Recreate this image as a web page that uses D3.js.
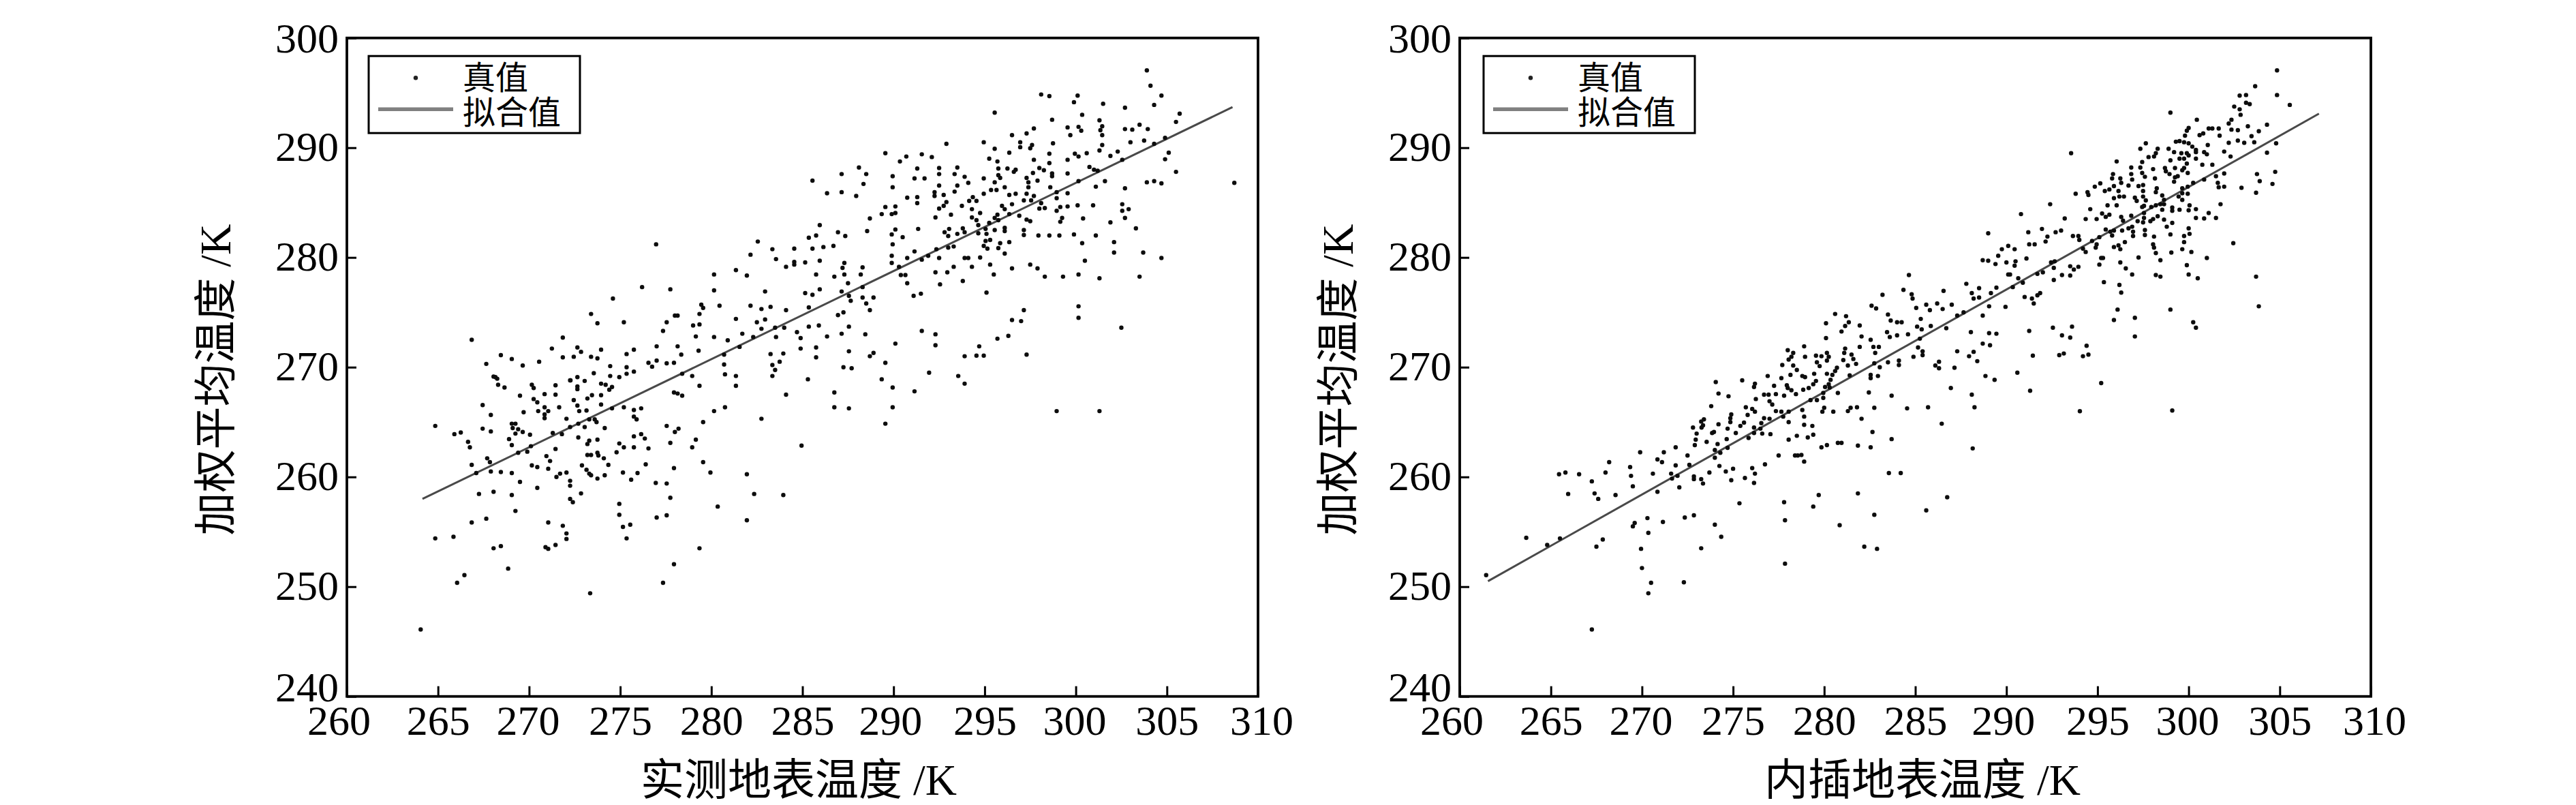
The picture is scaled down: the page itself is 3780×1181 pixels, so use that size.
<!DOCTYPE html>
<html>
<head>
<meta charset="utf-8">
<script src="https://cdn.jsdelivr.net/npm/d3@7"></script>
<style>
  body { margin: 0; background: #fff; }
  text { font-family: "Liberation Serif", "Noto Sans CJK SC", serif; fill: #000; }
</style>
</head>
<body>
<svg id="chart" width="3780" height="1181"></svg>
<script>
// tick labels
var xTicks = [260, 265, 270, 275, 280, 285, 290, 295, 300, 305, 310];
var yTicks = [240, 250, 260, 270, 280, 290, 300];

// axis titles and legend
var xTitleLeft = '实测地表温度 /K';
var xTitleRight = '内插地表温度 /K';
var yTitle = '加权平均温度 /K';
var legendLabels = ['真值', '拟合值'];

// fit lines as [x, y] ends
var fitLeft = [[264.15, 258.0], [308.6, 293.7]];
var fitRight = [[261.55, 250.5], [307.15, 293.1]];

// left panel points [measured, weighted mean]
var pointsLeft = [
[276.97,281.2],[276.2,277.3],[277.75,277.1],[274.6,276.25],[273.4,274.85],[273.75,274],[275.2,274.1],[278,274.7],[278.15,274.7],[279.45,275.7],[279.55,275.4],[279.35,274.85],[277.55,274.1],[277.35,273.3],[279,273.8],[279.35,273.9],[279.15,272.8],[266.85,272.5],[271.85,272.7],[271.25,271.7],[272.65,271.8],[273.95,271.6],[272.85,271.4],[275.35,271.2],[275.75,271.6],[277,271.9],[278.15,271.9],[279.3,271.5],[268.45,271.1],[269.05,270.75],[267.65,270.3],[269.65,270.15],[270.55,270.5],[271.85,270.9],[272.45,270.95],[273.4,270.95],[273.75,270.8],[276.55,270.4],[276.75,270.05],[277,270.6],[277.55,270.35],[277.95,270.4],[278.35,271.15],[274.45,270.1],[275.35,270],[275.75,269.6],[275.35,269.4],[273.55,269.45],[274.45,269.2],[274.95,269.1],[268.15,269.1],[272.65,269.1],[272.27,268.8],[273.05,268.75],[278.4,269.4],[278.95,269.2],
[268.05,269.15],[268.25,268.95],[268.3,268.4],[268.65,268.15],[270.15,268.4],[270.25,268.1],[271.45,268.35],[272.25,268.8],[272.65,268.25],[272.65,268],[273.95,268.5],[274.2,268.4],[274.55,268.2],[274.4,267.95],[269.5,267.4],[270.85,267.55],[271.45,267.5],[270.25,267.1],[270.45,266.8],[272.45,267],[273.2,267.15],[273.45,267.45],[273.95,267.45],[273.95,266.6],[277.95,267.7],[278.15,267.6],[278.4,267.4],[279.35,268.3],[267.45,266.55],[267.9,265.65],[269.7,265.9],[270.5,266],[270.85,266.35],[271.05,266],[270.85,265.7],[270.85,265.35],[271.65,266.35],[272.65,266.5],[272.75,266],[273.15,266.05],[272.05,265.3],[275.2,266.35],[275.75,266.1],[276.15,266.25],[275.75,265.5],[275.9,265.25],[274.55,266.25],[264.85,264.65],[267.45,264.4],[267.9,264.15],[265.9,263.9],[266.25,264.05],[269.05,264.85],[269.25,264.85],[269.1,264.45],[269.4,264.35],[269.25,263.95],[269.65,264.1],[270.05,263.85],[271.3,264],[271.8,263.9],[272.25,264.55],[272.7,264.85],[273.05,264.55],[273.3,265.25],[273.6,265.25],[273.7,265],[274.15,264.45],[277.55,264.65],[278,264.1],[278.2,264.4],[279.55,265],[268.9,263.45],[269.05,262.9],[270.1,262.8],[272.7,263.6],[273.3,263.3],[273.2,263],[273.75,263.4],[266.65,263.2],[266.75,262.7],[269.9,262.3],[269.4,262.2],[271.45,262.55],[274.8,262.25],[274.95,263.05],[275.2,262.7],[275.75,262.7],[275.75,263.7],[276.15,263.9],[276.35,263.5],[276.55,262.6],[277.75,263.1],[278.95,262.7],[279.15,263.4],[270.95,261.9],[271.15,261.45],[273.2,262],[273.4,262],[273.75,262.2],[273.8,261.95],[274.1,261.7],[267.7,261.7],[267.85,261.35],[266.85,261.1],[270.15,261.05],[270.45,260.9],[271.05,260.75],[272.9,261.05],[274.35,261.1],[273.15,260.65],[273.3,260.3],[276.4,261.15],[277.95,260.8],[279.55,261.35],[267.9,260.5],[267.1,260.35],[268.45,260.45],[269.05,260.35],[271.5,260],[271.7,260.3],[272.05,260.4],[273.4,260.15],[273.75,259.85],[274.15,260.15],[275.15,260.4],[275.6,259.75],[275.95,260.35],[269.5,259.55],[272.25,259.65],[272.25,259.2],[270.45,259],[276.95,259.45],[277.55,259.4],[267.25,258.45],[268.05,258.65],[269.05,258.35],[272.85,258.5],[272.25,258],[272.4,257.7],[277.75,258.1],[274.95,257.55],[269.25,256.9],[274.95,256.55],[277,256.3],[277.55,256.5],[267.65,256.2],[266.85,255.85],[271.05,255.85],[271.85,255.55],[275.15,255.45],[275.55,255.65],[264.85,254.4],[265.85,254.55],[272.05,254.85],[272.05,254.35],[275.35,254.4],[268.05,253.5],[268.45,253.7],[270.9,253.6],[271.05,253.45],[271.45,253.8],[279.35,253.5],[277.95,252.05],[268.85,251.65],[266.45,251.05],[266.05,250.35],[277.35,250.35],[273.35,249.4],[264.05,246.1],
[303.9,297.05],[304.1,295.65],[298.1,294.85],[298.55,294.7],[300.1,294.75],[299.9,294.15],[304.7,294.75],[301.5,294],[302.7,293.65],[304.3,293.9],[295.55,293.2],[300.35,293],[305.7,293.1],[298.7,292.55],[301.3,292.5],[305.5,292.35],[299.55,291.85],[300.15,291.9],[300.3,291.55],[301.45,291.95],[301.35,291.6],[302.7,291.7],[303.1,291.65],[303.5,292.1],[303.95,291.7],[297.7,291.75],[297.3,291.3],[296.5,291.15],[299.7,291.15],[301.45,291.15],[292.9,290.35],[294.95,290.5],[296.95,290.5],[296.95,290.05],[297.6,290.25],[297.5,289.95],[298.75,290.4],[303,290.5],[303.75,290.65],[304.3,290.35],[304.9,290.9],[301.45,290.25],[301.3,289.75],[295.55,289.9],[296.35,289.55],[298.55,289.45],[299.95,289.45],[300.15,289.2],[300.6,289.5],[301.9,289.25],[302.3,289.65],[305.1,289.55],[289.55,289.5],[290.7,289.2],[291.55,289.4],[292.1,289.15],[290.35,288.75],[295.25,289],[295.7,288.75],[297.7,288.9],[298.55,288.6],[299.55,288.9],[304.9,288.95],[302.55,288.9],[288.1,288.2],[291.3,288.1],[292.5,288.15],[293.5,288.2],[295.75,288.1],[296.25,288.1],[296.6,287.8],[296.7,288],[298,288.15],[298.25,287.95],[300.75,288.25],[301,288],[305.5,287.8],[287.15,287.6],[288.5,287.6],[289.95,287.4],[292.5,287.6],[293.35,287.6],[293.9,287.35],[295.75,287.5],[297.65,287.7],[298.7,287.65],[298.7,287.4],[299.55,287.65],[301.2,287.9],[285.55,287],[291.15,287.2],[291.7,287.2],[294.95,287.2],[297.3,287.25],[295.85,287.25],[288.35,286.7],[294.1,286.8],[295.55,286.85],[297.9,287],[297.4,286.85],[300.15,286.95],[301.6,286.95],[303.9,286.85],[304.3,286.95],[304.7,286.75],[308.7,286.8],[289.95,286.4],[292.5,286.55],[293.5,286.55],[296.1,286.4],[297.4,286.4],[298.6,286.4],[301.1,286.45],[302.7,286.3],[295.35,286.15],[295.65,286.15],[292.25,285.95],[292.75,285.7],[293.35,286],[294.95,285.8],[296.35,285.7],[296.7,285.8],[297.3,285.8],[298.95,285.95],[299.55,285.85],[286.35,285.85],[287.15,285.95],[287.95,285.6],[292.25,285.6],[290.75,285.45],[291.3,285.5],[291.3,284.95],[294.35,285.5],[294.15,285.15],[294.55,285.15],[297.15,285.2],[297.7,285.6],[297.55,285.2],[298.95,285.4],[292.9,285.05],[292.75,284.7],[292.5,284.45],[293.75,284.7],[295.95,284.7],[296.5,284.85],[298.1,284.95],[298,284.45],[298.3,284.5],[299.15,284.6],[298.95,284.25],[299.55,284.65],[300.1,284.75],[300.95,284.75],[302.55,284.85],[289.55,284.6],[290.1,284.65],[294.3,284.4],[296.1,284.4],[302.55,284.25],[302.9,284.4],[289.35,283.95],[289.9,283.95],[290.1,284.05],[293.15,283.9],[292.3,283.65],[294.75,284.05],[295.7,283.9],[295.55,283.6],[296.35,283.95],[296.9,283.8],[288.7,283.55],[294.3,283.65],[294.55,283.4],[300.4,283.55],[302.7,283.6],[299.25,283.6],[299.15,283.25],[297.3,283.45],[297.5,283.3],[295.25,283.15],[295.75,283.4],[301.9,283.2],[285.95,282.95],[294.65,282.95],[303.3,282.65],[291.35,282.6],[290.1,282.55],[289.9,282.1],[288.55,282.4],[286.95,282.3],[287.35,281.95],[293.05,282.6],[292.8,282.3],[293,281.95],[293.8,282.65],[293.5,282.15],[293.9,282.3],[294.65,282.2],[295.05,282.6],[295.1,282.15],[295.55,282.5],[296.1,282.7],[296.1,282.4],[297.15,282.5],[297.15,282.05],[297.95,282],[298.55,282],[299.1,282],[299.9,282.1],[301.1,282],[285.75,282],[285.35,281.8],[290.5,281.85],[282.55,281.45],[289.95,281.2],[295.05,281.5],[294.95,281.05],[295.15,280.8],[295.3,281.6],[295.85,281.3],[295.75,280.85],[296.35,281.4],[300.35,281.3],[302.1,281.4],[286.7,281.05],[286.15,280.95],[285.55,280.8],[284.55,280.8],[283.35,280.75],[293.3,281],[293,280.9],[292.35,280.75],[291.15,280.55],[302.1,280.45],[303.7,280.45],[296.1,280.35],[282.15,280.25],[289.9,280.15],[289.9,279.5],[290.75,279.95],[291.9,280.15],[292.5,279.95],[293.9,279.95],[294.1,279.95],[294.75,280],[304.7,279.95],[283.55,279.85],[285.95,279.7],[300.5,279.7],[284.55,279.6],[284.55,279.35],[285.15,279.55],[284.1,279.15],[287.3,279.5],[287.2,279.05],[288.3,279.1],[291.55,279.8],[290.3,279.15],[293.3,279.15],[294.3,279.15],[295.3,279.35],[297.5,279.35],[297.9,279],[296.5,279],[281.35,278.85],[280.15,278.45],[281.95,278.35],[285.75,278.45],[286.75,278.25],[287.3,278.45],[288.2,278.45],[290.4,278.4],[290.65,278.4],[292.3,278.65],[292.95,278.65],[295.5,278.45],[298.3,278.25],[299.3,278.25],[300.15,278.45],[301.3,278.1],[303.5,278.25],[287.5,277.65],[290.75,277.65],[292.55,277.55],[293.8,277.85],[280.15,277],[282.95,276.9],[285.95,277.1],[285.15,276.75],[285.55,276.6],[287.15,276.9],[288.3,277.3],[295.1,276.8],[291.5,276.7],[291.1,276.5],[288.9,276.35],[287.55,276.5],[287.65,276.05],[288.3,276.35],[288.5,275.8],[280.45,275.6],[282.15,275.6],[282.75,275.3],[283.25,275.5],[284.1,275.2],[285.35,275.45],[288.7,275.2],[300.15,275.55],[297.15,275.2],[287.25,275],[286.95,274.75],[281.35,274.4],[282.95,274.35],[282.5,274.1],[300.15,274.5],[296.5,274.3],[297,274.2],[302.5,273.6],[282.75,273.5],[284,273.6],[283.5,273.6],[283.55,272.75],[285.35,273.7],[285.9,273.8],[287.55,273.7],[291.55,273.3],[284.7,273.2],[287.15,273.05],[288.45,273],[292.3,273],[281.7,273.05],[280.15,272.75],[280.9,272.45],[282.3,272.75],[284.9,272.65],[286.35,272.8],[295.7,272.6],[296.3,272.85],[290.1,272.15],[292.3,272],[281.55,271.85],[294.7,271.9],[284.9,271.7],[285.75,271.8],[280.7,271.15],[283.25,271.2],[283.95,271.25],[287.55,271.45],[288.9,271.3],[288.7,271],[285.75,270.9],[293.9,271],[294.55,271.05],[294.95,271.05],[297.3,271.15],[283.75,270.5],[289.55,270.4],[280.7,270.25],[283.35,270.2],[283.5,269.75],[287.25,270],[287.7,269.9],[291.95,269.5],[280.75,269.35],[281.35,269.2],[283.35,269.2],[285.3,268.9],[289.35,268.9],[293.55,269.2],
[281.35,268.3],[284.1,267.5],[286.75,267.7],[289.95,268.15],[291.15,267.8],[293.9,268.5],[280.15,266],[280.75,266.35],[286.75,266.35],[287.55,266.25],[289.95,266.35],[298.95,266],[301.3,266],[282.75,265.3],[289.55,264.85],[284.95,262.85],[279.95,260.4],[281.95,260.25],[282.35,258.45],[283.95,258.35],[280.35,257.3],[281.95,256.05]
];

// right panel points [interpolated, weighted mean]
var pointsRight = [
[304.85,297.05],[303.65,295.6],[302.8,294.75],[303.15,294.8],[304.85,294.8],[303.15,294.1],[303.35,293.97],[305.55,293.9],[302.5,293.75],[302.8,293.5],[302.85,293],[299,293.2],[300.45,292.55],[302.35,292.55],[302.2,292.2],[302.35,291.65],[302.7,291.6],[303.25,291.95],[304.3,292.1],[303.85,291.5],[300,291.8],[299.9,291.55],[299.8,291.1],[301.1,291.75],[301.3,291.75],[301.65,291.75],[301.7,291.1],[300.6,291.15],[300.8,291.3],[303.45,291.05],[302.7,290.65],[302.2,290.45],[303.05,290.45],[303.6,290.5],[304.8,290.4],[301.05,290.25],[299.3,290.55],[299.5,290.6],[299.75,290.5],[300,290.4],[300.2,290.1],[300.4,289.8],[298.9,289.9],[297.65,290.4],[297.35,289.9],[298.3,289.9],[298.2,289.5],[298.1,289.2],[299.2,289.6],[300.85,289.6],[301,289.4],[301.95,289.65],[302.3,289.2],[304.3,289.55],[293.55,289.5],[299.6,289.5],[299.9,289.5],[300.4,289.6],[299.5,289],[299.75,289],[300,289.3],[300.4,289],[297.8,289.15],[297.45,288.7],[296.05,288.75],[299,288.85],[300.75,288.45],[301.3,288.45],[299.9,288.55],[299.75,288.15],[296.85,288.2],[297.35,288.2],[298.05,288.05],[298.7,288.15],[299.25,288.15],[298.75,287.85],[298.95,287.6],[299.65,287.95],[299.95,287.7],[303.75,287.6],[301.95,287.65],[304.75,287.8],[295.85,287.6],[295.8,287.2],[296.85,287.6],[296.9,287.1],[297.45,287.7],[297.6,287.35],[296.25,287.2],[296.3,286.8],[298.15,287.2],[299.25,287.3],[299.2,286.9],[299.4,287.4],[301.5,287.4],[300.85,287.1],[300.25,286.8],[301.6,286.8],[301.65,286.4],[301.95,286.45],[303.9,286.95],[304.6,286.7],[302.9,286.35],[295.15,286.75],[294.85,286.45],[296.7,286.55],[297.25,286.5],[297.5,286.6],[297.5,286.05],[294.45,285.95],[294.5,285.7],[293.8,285.8],[295.4,286.05],[295.65,286.2],[295.9,286.5],[296.15,286.05],[295.9,285.4],[296.2,285.55],[296.45,285.55],[297.05,285.45],[297.15,285.15],[297.5,285.55],[298.25,286.3],[298.2,285.95],[298.55,285.65],[298.65,285.25],[298.65,284.85],[299.65,286.3],[299.65,285.85],[299.95,286.45],[299.95,285.8],[303.7,285.9],[299.45,285.55],[299.65,285.25],[297.65,285.2],[297.55,284.7],[297.45,284.6],[301.75,284.85],[292.4,284.85],[295.55,284.75],[296.05,284.75],[298.2,284.75],[297.95,284.6],[298.45,284.85],[300.05,284.75],[299.1,284.55],[299.1,284.25],[299.5,284.35],[300,284.3],[300.4,284.4],[298.55,284.35],[294.6,284.4],[297.55,284.05],[290.8,283.95],[301.1,284.05],[295.25,284],[295.45,283.7],[295.65,283.9],[296.3,283.7],[296.85,283.8],[298.3,283.75],[298.05,283.5],[297.55,283.6],[293.2,283.55],[294.35,283.5],[294.95,283.5],[300.4,283.6],[300.85,283.55],[301.5,283.6],[296.4,283.35],[297.2,283.3],[297.5,283.2],[297.9,283.3],[298.65,283.45],[299.1,283.15],[298.8,282.8],[296.9,282.8],[291.95,282.6],[291.2,282.3],[292.7,282.3],[293,282.45],[289,282.2],[295.45,282.55],[295.7,282.35],[295.9,282.45],[296.35,282.45],[296.7,282.65],[296.95,282.35],[296.95,281.95],[297.6,282.5],[297.6,282.05],[300,282.65],[299,282.1],[300.05,282.15],[299.75,281.95],[293.65,281.95],[293.95,281.95],[294,281.6],[295.1,281.85],[295.8,282],[292.25,281.9],[292.15,281.45],[298.1,281.9],[296.5,281.4],[299.75,281.4],[302.45,281.3],[291.25,281.2],[291.55,281.2],[290.1,281.05],[294.7,281.5],[294.95,281.2],[294.9,280.9],[295.9,280.95],[296.15,281.1],[296.25,280.75],[298.05,281.2],[298.1,280.9],[294.2,280.8],[294.35,280.5],[289.75,280.75],[290.45,280.75],[299.65,280.75],[299.05,280.45],[300.15,280.5],[298.2,280.4],[289.55,280.15],[297.25,280],[301,279.95],[295.2,279.95],[295.3,279.95],[291.1,279.9],[288.7,279.75],[289,279.7],[290.5,279.65],[290.45,279.25],[290,279.55],[289.4,279.4],[292.45,279.55],[292.65,279.65],[296.25,279.55],[298.45,279.75],[295.1,279.35],[299.9,279.3],[293.5,279.2],[293.95,279.15],[293.7,278.9],[292.6,279.05],[296.55,279],[290.1,278.45],[290.2,278.45],[291.7,278.5],[292,278.65],[293.05,278.4],[293.5,278.35],[296.9,278.45],[298.2,278.4],[298.45,278.25],[300,278.45],[303.7,278.25],[300.5,278.1],[290.65,278.1],[290.9,277.7],[292.6,277.95],[295.35,277.75],[296.2,277.5],[290.35,277.3],[289.45,277.25],[288.5,277.2],[289.15,276.75],[296.3,276.8],[291.7,276.55],[291.85,276.75],[291,276.4],[291.4,276.25],[288.5,276.35],[291.5,275.8],[289.05,275.55],[289.95,275.5],[303.85,275.55],[299,275.25],[296.1,275.25],[288.7,274.7],[297.05,274.5],[295.9,274.3],[300.25,274.1],[300.4,273.6],[292.55,273.6],[293.6,273.7],[291.25,273.3],[289.05,273.1],[289.45,273.05],[293.05,272.9],[293.5,272.7],[297.05,272.8],[288.7,272.15],[289.1,272],[294.4,271.95],[292.9,271.1],[293.15,271.25],[294.2,271],[294.5,271.15],[291.45,271.05],[288.4,270.55],[290.6,269.5],[288.85,269.2],[289.35,268.85],[295.2,268.55],[291.3,267.85],[294.03,265.99],[299.1,266.05],
[284.65,278.4],[287.8,277.6],[286.55,276.95],[284.35,277.05],[283.2,276.6],[284.8,276.65],[284.85,276.25],[288.1,276.75],[288.2,276.25],[282.6,275.6],[282.85,275.35],[285.05,275.4],[285.6,275.7],[285.8,275.2],[286.2,275.8],[286.5,275.3],[287,275.7],[287.65,275],[287.3,274.7],[280.6,274.85],[281.2,274.65],[283.5,274.8],[283.65,274.25],[284,274.1],[284.25,274.1],[285.3,274.4],[280.1,274],[281.35,274.1],[281.15,273.75],[281.95,273.8],[285.1,273.7],[285.85,273.75],[286.7,273.55],[280.95,273.25],[285.35,273.45],[283.45,273.2],[283.6,272.75],[284,272.9],[284.6,273],[288.05,273.2],[282.05,272.8],[280.1,272.65],[282.55,272.5],[285.25,272.6],[278.9,271.9],[282.7,271.85],[283,271.85],[281.95,271.85],[281.15,271.7],[285.15,271.8],[278,271.55],[278.3,271.3],[278.2,270.95],[278.05,270.7],[278.95,270.95],[280.15,271.3],[279.55,271.05],[279.85,271],[280.25,270.95],[280.15,270.6],[281.1,271.3],[281.5,271.15],[282.8,271.3],[285.4,271.45],[285.4,271.1],[287.3,271.45],[288.2,271.4],[287.95,271],[284.9,270.95],[281.05,270.65],[281.6,270.75],[281.75,270.3],[283.5,270.45],[284.1,270.6],[284.1,270.2],[282.75,270.35],[279.6,270.45],[279.75,270.1],[277.7,270.2],[278.3,270.15],[278.5,269.75],[281.3,270.15],[283.05,270],[286.3,270.5],[286.1,270.15],[286.3,269.9],[287.15,269.95],[280.7,269.95],[280.6,269.65],[280.15,269.4],[280.45,269.3],[278.15,269.3],[276.9,269.2],[279.45,269.4],[278.8,269.2],[278.95,269.1],[281.4,269.25],[282.55,269.3],[282.55,269],[282.95,269.2],[277.65,269],[275.5,268.8],[274.05,268.65],[279.55,268.75],[279.4,268.45],[280.35,268.85],[276.2,268.5],[276.15,268.2],[277.25,268.3],[277.95,268.35],[278,268.1],[280.25,268.45],[280.05,268.2],[280.3,268.15],[278.85,267.95],[279.15,268.1],[286.95,268.1],[274.2,267.6],[274.75,267.35],[276.7,267.5],[276.95,267.5],[277.35,267.55],[277.8,267.4],[278.2,267.9],[278.45,267.55],[276.25,267.1],[280.75,267.65],[282.45,267.7],[283.7,267.4],[288.1,267.5],[279.95,267.65],[279.95,267.2],[279.6,267],[279.25,267],[277,266.9],[277.15,266.6],[273.8,266.45],[275.7,266.35],[276.05,266.2],[276.2,265.95],[280,266.3],[279.9,265.95],[281.45,266.3],[281.3,266],[281.8,266.35],[282.75,266.3],[284.55,266.25],[285.7,266.35],[288.25,266.35],[277.35,266],[277.65,265.95],[278.05,265.95],[278.8,266.1],[280.5,265.95],[274.9,265.7],[274.85,265.35],[274.85,265],[275.8,265.65],[277.75,265.5],[278.9,265.5],[276.7,265.35],[277,265.3],[273.4,265.25],[273.25,265.05],[282.05,265.3],[273.27,264.5],[273.35,264.7],[278.05,265],[274.2,264.8],[276.55,264.9],[286.45,264.85],[275.6,264.95],[275.4,264.65],[278.9,264.75],[279.35,264.65],[272.8,264.5],[276.15,264.5],[276.5,264.4],[274.7,264.4],[273.85,264],[273.95,264.1],[275.15,264],[273,263.95],[276.15,264],[276.6,263.95],[277.05,263.9],[282.65,264.1],[278.5,263.75],[279.4,263.85],[275.85,263.55],[274.65,263.45],[279.1,263.6],[278.05,263.4],[283.7,263.45],[272.95,263.4],[273.55,263.2],[274.15,263],[272.9,262.9],[280.15,262.9],[279.85,262.7],[280.75,263.1],[280.95,263.1],[281.85,262.85],[282.55,262.7],[288.15,262.6],[271.85,262.7],[274.7,262.65],[274,262.45],[274.3,262.2],[271.2,262.25],[269.9,262.25],[272.5,261.95],[278.55,261.95],[278.75,262],[278.4,261.95],[277.5,261.95],[274,261.75],[270.85,261.6],[271.1,261.35],[278.9,261.4],[276.75,261.15],[271.85,261.05],[272.6,261.1],[274.25,261],[276.05,260.8],[275,260.75],[274.6,260.5],[273.7,260.4],[283.55,260.35],[284.2,260.35],[270.6,260.3],[271.6,260.3],[276.2,260.3],[271.95,260.1],[271.65,259.85],[272.85,260.05],[272.85,259.8],[273.25,259.8],[273.35,259.4],[275.65,259.9],[274.9,259.7],[276.15,259.45],[272.05,259.05],[270.85,258.65],[281.85,258.5],[279.7,258.35],[286.75,258.15],[277.8,257.7],[275.35,257.6],[279.4,257.3],[285.6,256.95],[282.75,256.55],[272.85,256.5],[272.35,256.3],[270.3,256.25],[277.85,256.05],[271.15,255.9],[274,255.65],[280.85,255.6],[270.35,254.9],[274.35,254.55],[269.95,253.45],[273.25,253.5],[282.2,253.65],[282.9,253.45],[270,251.7],[277.85,252.1],[270.5,250.35],[272.3,250.4],[270.35,249.4],
[261.45,251.05],[263.65,254.45],[264.8,253.8],[265.5,254.4],[265.45,260.25],[265.8,260.4],[266.55,260.25],[267.25,259.6],[265.95,258.45],[267.4,258.5],[267.6,258],[268,260.4],[268.2,261.35],[268.55,258.35],[269.35,260.9],[269.4,260.1],[269.5,259.15],[267.5,253.65],[267.85,254.3],[269.5,255.5],[269.6,255.8],[267.25,246.1]
];

var svg = d3.select('#chart');
var defs = svg.append('defs');
defs.append('filter').attr('id', 'soft').append('feGaussianBlur').attr('stdDeviation', 0.7);

var plotW = 1337, plotH = 966, plotTop = 55.7;
var x = d3.scaleLinear().domain([260, 310]).range([0, plotW]);
var y = d3.scaleLinear().domain([240, 300]).range([plotH, 0]);
var line = d3.line().x(function(d) { return x(d[0]); }).y(function(d) { return y(d[1]); });

// small shifts the original makes so end labels do not collide
var xNudge = { 260: -12, 270: -2, 290: -5, 300: -2, 310: 5 };
var yNudge = { 240: -14, 300: 0 };

function panel(left, points, fit, xTitle, titleX, yTitleX, legendDx) {
  var g = svg.append('g').attr('transform', 'translate(' + left + ',' + plotTop + ')');

  // points and fit line first, frame goes on top
  var marks = g.append('g').attr('filter', 'url(#soft)');
  marks.append('path').datum(fit)
    .attr('d', line)
    .attr('fill', 'none')
    .attr('stroke', '#4a4a4a')
    .attr('stroke-width', 3);
  marks.selectAll('circle').data(points).enter().append('circle')
    .attr('cx', function(d) { return x(d[0]); })
    .attr('cy', function(d) { return y(d[1]); })
    .attr('r', 3.2)
    .attr('fill', '#111');

  var xAxis = g.append('g').attr('transform', 'translate(0,' + plotH + ')')
    .call(d3.axisBottom(x).tickValues(xTicks).tickSize(-15).tickFormat(d3.format('d')));
  var yAxis = g.append('g')
    .call(d3.axisLeft(y).tickValues(yTicks).tickSize(-14).tickFormat(d3.format('d')));

  xAxis.select('.domain').remove();
  yAxis.select('.domain').remove();
  xAxis.selectAll('line').attr('stroke', '#000').attr('stroke-width', 3);
  yAxis.selectAll('line').attr('stroke', '#000').attr('stroke-width', 3);
  xAxis.selectAll('text')
    .attr('y', 56)
    .attr('dy', 0)
    .attr('dx', function(d) { return xNudge[d] || 0; })
    .style('font-size', '62px');
  yAxis.selectAll('text')
    .attr('x', -12)
    .attr('dy', function(d) { return (d in yNudge ? yNudge[d] : -2.5) + 21; })
    .style('font-size', '62px');

  g.append('rect')
    .attr('width', plotW).attr('height', plotH)
    .attr('fill', 'none').attr('stroke', '#000').attr('stroke-width', 3.8);

  // legend
  var leg = g.append('g').attr('transform', 'translate(' + legendDx + ',26.5)');
  leg.append('rect').attr('width', 310).attr('height', 113)
    .attr('fill', '#fff').attr('stroke', '#000').attr('stroke-width', 3);
  leg.append('circle').attr('cx', 69).attr('cy', 32).attr('r', 3.2).attr('fill', '#222');
  leg.append('line').attr('x1', 14).attr('x2', 124).attr('y1', 78).attr('y2', 78)
    .attr('stroke', '#808080').attr('stroke-width', 5.5);
  leg.selectAll('text').data(legendLabels).enter().append('text')
    .attr('x', 138)
    .attr('y', function(d, i) { return 49 + i * 51; })
    .style('font-size', '48px')
    .text(function(d) { return d; });

  // axis titles
  svg.append('text').attr('x', titleX).attr('y', 1166)
    .attr('text-anchor', 'middle')
    .style('font-size', '64px')
    .text(xTitle);
  svg.append('text')
    .attr('transform', 'translate(' + yTitleX + ',557) rotate(-90)')
    .attr('text-anchor', 'middle')
    .style('font-size', '63px')
    .text(yTitle);
}

panel(509, pointsLeft, fitLeft, xTitleLeft, 1172, 338, 32);
panel(2142, pointsRight, fitRight, xTitleRight, 2821, 1985, 35);
</script>
</body>
</html>
